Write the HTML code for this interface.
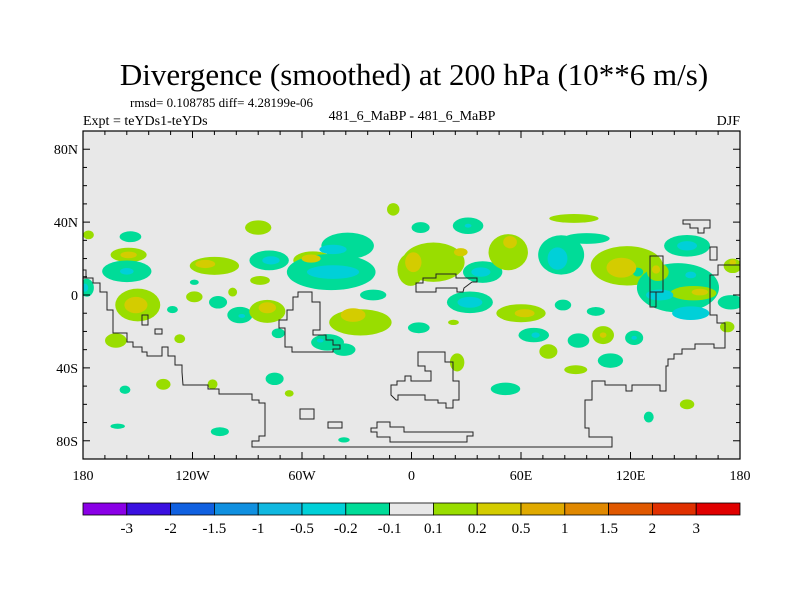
<!DOCTYPE html>
<html><head><meta charset="utf-8"><style>
body{margin:0;background:#fff;}
svg{display:block;font-family:"Liberation Serif",serif;}
</style></head><body>
<svg id="chart" width="800" height="600" viewBox="0 0 800 600">
<text x="414" y="85" font-size="31" text-anchor="middle">Divergence (smoothed) at 200 hPa (10**6 m/s)</text>
<text x="130" y="107" font-size="13">rmsd= 0.108785 diff= 4.28199e-06</text>
<text x="83" y="125" font-size="14">Expt = teYDs1-teYDs</text>
<text x="412" y="120" font-size="14" text-anchor="middle">481_6_MaBP - 481_6_MaBP</text>
<text x="740" y="125" font-size="14" text-anchor="end">DJF</text>
<defs><clipPath id="pc"><rect x="83" y="131" width="657" height="328"/></clipPath></defs>
<rect x="83" y="131" width="657" height="328" fill="#e8e8e8"/>
<g id="blobs" clip-path="url(#pc)"></g>
<g id="coast" fill="none" stroke="#222" stroke-width="1" clip-path="url(#pc)">
<path d="M298,292 L312,292 L312,302 L320,302 L320,330 L313,330 L313,335 L326,335 L326,340 L333,340 L333,345 L340,345 L340,349 L333,349 L333,352 L292,352 L292,347 L285,347 L285,328 L279,328 L279,320 L287,320 L287,310 L293,310 L293,297 L298,297 Z"/>
<path d="M83,270 L86,270 L86,278 M83,278 L93,278 L93,283 L100,283 L100,292 L107,292 L107,310 L113,310 L113,333 L127,333 L127,342 L133,342 L133,347 L142,347 L142,352 L147,352 L147,356 L162,356 L162,347 L168,347 L168,356 L175,356 L175,365 L182,365 L182,372 L183,385 L208,385 L208,389 L219,389 L219,394 L252,394 L252,400 L259,400 L259,403 L265,403 L265,436 L259,436 L259,441 L252,441 L252,447 L612,447 L612,437 L589,437 L589,428 L585,428 L585,400 L592,400 L592,381 L605,381 L605,385 L626,385 L626,391 L632,391 L632,385 L660,385 L660,391 L666,391 L666,366 L668,366 L668,359 L674,359 L674,354 L682,354 L682,349 L695,349 L695,344 L714,344 L714,348 L725,348 L725,323 L717,323 L717,315 L710,315 L710,275 L718,275 L718,265 L740,265"/>
<path d="M683,220 L710,220 L710,228 L704,228 L704,233 L698,233 L698,228 L690,228 L690,224 L683,224 Z"/>
<rect x="710" y="247" width="7" height="13"/>
<rect x="650" y="256" width="13" height="36"/>
<rect x="650" y="292" width="6" height="15"/>
<path d="M416,292 L416,283 L423,283 L423,278 L436,278 L436,274 L456,274 L456,278 L477,278 L477,282 L472,282 L464,288 L463,292 L457,292 L457,288 L436,288 L436,292 Z"/>
<path d="M418,352 L445,352 L445,362 L453,362 L453,381 L459,381 L459,400 L453,400 L453,408 L446,408 L446,403 L438,403 L438,400 L425,400 L425,395 L398,395 L398,400 L396,400 L391,395 L391,385 L397,385 L397,381 L405,381 L405,376 L411,376 L411,381 L431,381 L431,371 L425,371 L425,366 L418,366 Z"/>
<rect x="300" y="409" width="14" height="10"/>
<rect x="328" y="422" width="14" height="6"/>
<path d="M377,422 L390,422 L390,427 L404,427 L404,432 L473,432 L473,436 L467,436 L467,442 L390,442 L390,437 L377,437 L377,432 L371,432 L371,428 L377,428 Z"/>
<rect x="142" y="315" width="6" height="10"/>
<rect x="155" y="329" width="7" height="5"/>
</g>
<rect x="83" y="131" width="657" height="328" fill="none" stroke="#000" stroke-width="1.2"/>
<g id="axes" font-size="14"></g>
<g id="colorbar"></g>
</svg>
<script>
// blobs: lon, lat, lon-radius, lat-radius (degrees), value
const blobLon=[-155,-155,-154,-156,-156,-150,-151,-162,-108,-113,-78,-77,-84,-83,-119,-119,-131,-127,-106,-94,-93,-98,-79,-79,-54,-55,-44,-35,-43,-43,-28,-32,-21,-46,-50,-37,-10,-177,-178,-179,
12,-0.5,1,27,5,31,31,39,38,53,54,89,82,80,96,118,115,124,32,32,60,62,83,101,23,4,67,68,91.5,109,105,105,122,122,75,90,25,
151,151,146,136,153,153,154.5,158,135,134,175,173,176,176,-73,-157,-136,-109,-75,-67,51.5,151,130,-161,-105,-37];
const blobLat=[22,22,32,13,13,-5.5,-5.5,-25,16,17,19,19,37,8,-1,7,-8,-24,-4,-11,-11.5,1.6,-9,-7,19,20,12.6,27,12.6,25,-15,-11,0,-26,-25,-30,47,33,4,4,
18,14,18,23.5,37,38,38,12.6,12.6,23.5,29,42,22,20,31,16,15,12.6,-4,-4,-10,-10,-5.5,-9,-15,-18,-22,-22,-25,-36,-22,-22,-23.5,-23.5,-31,-41,-37,
27,27,4,0,-10,11,1,1.6,12.6,14,-4,-17.5,16,18,-21,-52,-49,-49,-46,-54,-51.5,-60,-67,-72,-75,-79.5];
const blobRx=[11,6.6,6.6,15,5.5,13.7,9.3,6.6,15,8,12,7,8,6,5,2.7,3.3,3.3,5.5,7.7,2.7,2.7,11,7,12,7.7,27,16,21,11,19,10,8,10,2.7,7,3.8,3.3,4.4,2.7,
19,8,6.6,5.5,5.5,9.3,2.7,12,7.7,12,5.5,15,14,8,14,22,12,3.3,14,10,15,8,5,5.5,3.3,6.6,9.3,3.3,6.6,7.7,6.6,2.7,5.5,2.2,5.5,7,4.4,
14,8,25,11,15,4.4,14,6.6,6.6,3.3,8,4.4,5.5,2.7,4,3.3,4.4,3,5.5,2.7,9,4.4,3,4.4,5.5,3.5];
const blobRy=[4.4,2.7,3.3,6.6,2.7,10,6.6,4.4,5.5,3.3,6,3.3,4.4,2.7,3.3,1.6,2.2,2.7,3.8,5,1.6,2.7,7,4.4,5.5,3.3,11,8,5.5,3.8,8,5.5,3.3,5,1.6,3.8,3.8,2.7,5.5,3.3,
12,10,8,3.3,3.3,5,1.6,6.6,3.8,11,5,2.7,12,9,3.3,12,8,2.7,6.6,4.4,5.5,3.3,3.3,2.7,1.6,3.3,4.4,2.2,4.4,4.4,5.5,2.2,4.4,1.6,4.4,2.7,5.5,
6.6,3.8,15,4.4,5.5,2.7,4.4,2.7,5.5,3.3,4.4,3.3,4.4,2.2,3,2.5,3.3,3,3.8,2,3.8,3,3.3,1.6,2.7,1.6];
const blobVal=[0.15,0.3,-0.15,-0.15,-0.3,0.15,0.3,0.15,0.15,0.3,-0.15,-0.3,0.15,0.15,0.15,-0.15,-0.15,0.15,-0.15,-0.15,-0.3,0.15,0.15,0.3,0.15,0.3,-0.15,-0.15,-0.3,-0.3,0.15,0.3,-0.15,-0.15,-0.3,-0.15,0.15,0.15,-0.15,-0.3,
0.15,0.15,0.3,0.3,-0.15,-0.15,-0.3,-0.15,-0.3,0.15,0.3,0.15,-0.15,-0.3,-0.15,0.15,0.3,-0.15,-0.15,-0.3,0.15,0.3,-0.15,-0.15,0.15,-0.15,-0.15,-0.3,-0.15,-0.15,0.15,0.3,-0.15,-0.3,0.15,0.15,0.15,
-0.15,-0.3,-0.15,-0.3,-0.3,-0.3,0.15,0.3,0.15,0.3,-0.15,0.15,0.15,0.3,-0.15,-0.15,0.15,0.15,-0.15,0.15,-0.15,0.15,-0.15,-0.15,-0.15,-0.15];
const levels=[-3,-2,-1.5,-1,-0.5,-0.2,-0.1,0.1,0.2,0.5,1,1.5,2,3];
const colors=["#8a00e6","#3a10e0","#1060e0","#1090e0","#10b8e0","#00d0d8","#00dc98","#e8e8e8","#99dd00","#d4cc00","#e0aa00","#e08800","#e05800","#e03000","#e00000"];
const lonTicks=[-180,-120,-60,0,60,120,180];
const lonLabels=["180","120W","60W","0","60E","120E","180"];
const latTicks=[80,40,0,-40,-80];
const latLabels=["80N","40N","0","40S","80S"];
const X0=83,X1=740,Y0=131,Y1=459;
const xs=lon=>X0+(lon+180)/360*(X1-X0);
const ys=lat=>Y0+(90-lat)/180*(Y1-Y0);
const kx=(X1-X0)/360, ky=(Y1-Y0)/180;
const NS="http://www.w3.org/2000/svg";
function colorFor(v){let i=0;while(i<levels.length&&v>levels[i])i++;return colors[i];}
const bg=document.getElementById('blobs');
const order=blobLon.map((_,i)=>i).sort((a,b)=>Math.abs(blobVal[a])-Math.abs(blobVal[b]));
order.forEach(i=>{
  const s=Math.abs(blobVal[i])>0.2?0.68:0.9;
  const e=document.createElementNS(NS,'ellipse');
  e.setAttribute('cx',xs(blobLon[i]));e.setAttribute('cy',ys(blobLat[i]));
  e.setAttribute('rx',blobRx[i]*kx*s);e.setAttribute('ry',blobRy[i]*ky*s);
  e.setAttribute('fill',colorFor(blobVal[i]));
  
  
  bg.appendChild(e);
});
const ax=document.getElementById('axes');
function line(x1,y1,x2,y2){const l=document.createElementNS(NS,'line');l.setAttribute('x1',x1);l.setAttribute('y1',y1);l.setAttribute('x2',x2);l.setAttribute('y2',y2);l.setAttribute('stroke','#000');l.setAttribute('stroke-width','1');


ax.appendChild(l);}
function txt(x,y,s,anchor,name){const t=document.createElementNS(NS,'text');t.setAttribute('x',x);t.setAttribute('y',y);t.setAttribute('text-anchor',anchor);t.textContent=s;


ax.appendChild(t);}
for(let lon=-180;lon<=180;lon+=12){const big=lon%60===0;const L=big?7:4;line(xs(lon),Y0,xs(lon),Y0+L);line(xs(lon),Y1,xs(lon),Y1-L);}
for(let lat=-90;lat<=90;lat+=10){const big=lat%40===0;const L=big?7:4;line(X0,ys(lat),X0+L,ys(lat));line(X1,ys(lat),X1-L,ys(lat));}
lonTicks.forEach((v,i)=>txt(xs(v),480,lonLabels[i],'middle','x-tick-label'));
latTicks.forEach((v,i)=>txt(X0-5,ys(v)+5,latLabels[i],'end','y-tick-label'));
const cb=document.getElementById('colorbar');
const bw=(X1-X0)/colors.length;
colors.forEach((c,i)=>{const r=document.createElementNS(NS,'rect');r.setAttribute('x',X0+i*bw);r.setAttribute('y',503);r.setAttribute('width',bw);r.setAttribute('height',12);r.setAttribute('fill',c);r.setAttribute('stroke','#000');r.setAttribute('stroke-width','0.8');


cb.appendChild(r);});
levels.forEach((v,i)=>{const t=document.createElementNS(NS,'text');t.setAttribute('x',X0+(i+1)*bw);t.setAttribute('y',533);t.setAttribute('text-anchor','middle');t.setAttribute('font-size','15');t.textContent=String(v);


cb.appendChild(t);});
</script>
</body></html>
